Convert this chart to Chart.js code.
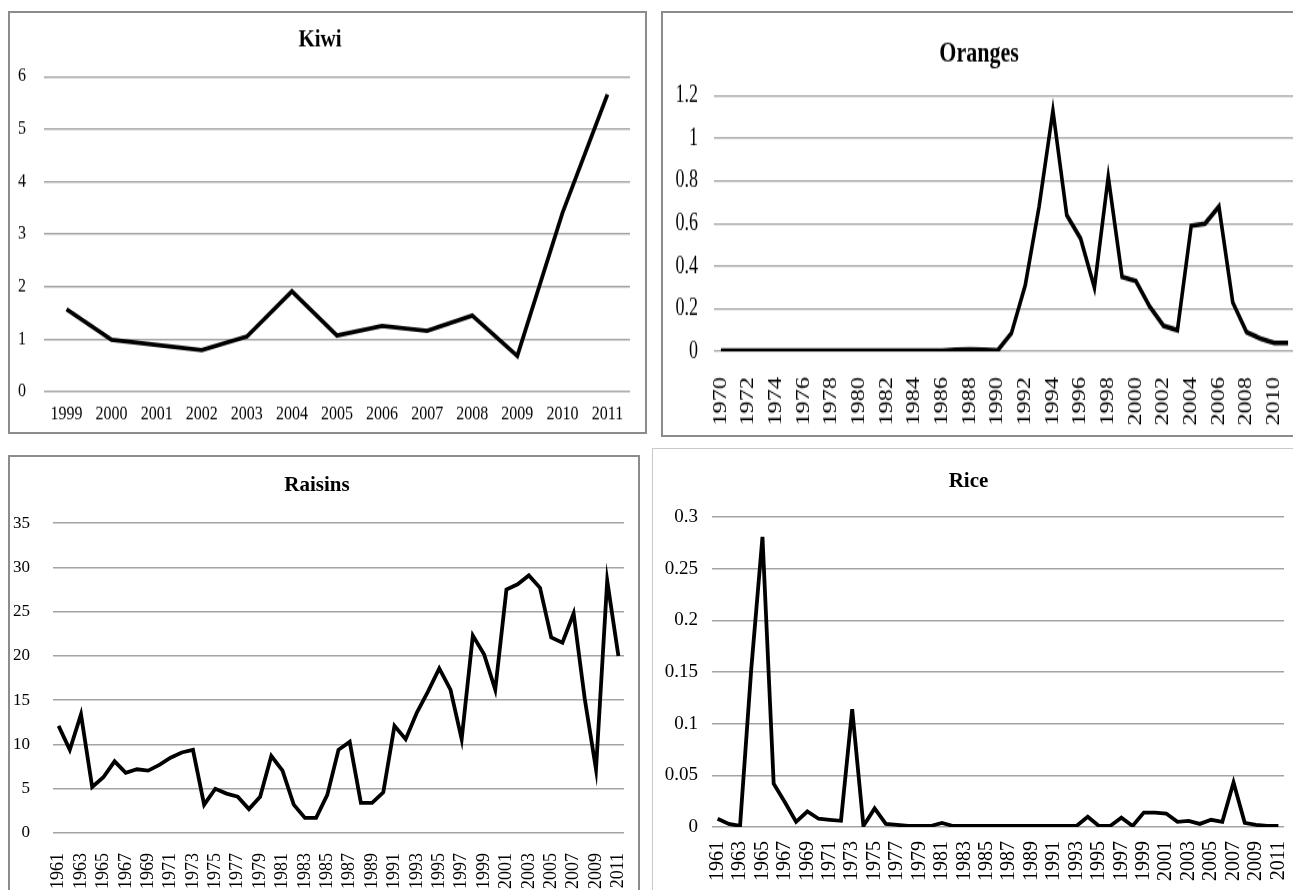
<!DOCTYPE html>
<html>
<head>
<meta charset="utf-8">
<script src="https://cdn.jsdelivr.net/npm/chart.js@4.4.1/dist/chart.umd.min.js"></script>
<style>
    body { margin: 0; width: 1293px; height: 890px; overflow: hidden; background: #fff; position: relative; }
    .box { position: absolute; box-sizing: border-box; }
    canvas { position: absolute; transform-origin: 0 0; }
</style>
</head>
<body>
<div class="box" style="left:8px; top:11px; width:639px; height:423px; border:2px solid #8c8c8c;"></div>
<div class="box" style="left:661px; top:11px; width:660px; height:426px; border:2px solid #8c8c8c;"></div>
<div class="box" style="left:8px; top:455px; width:632px; height:460px; border:2px solid #8c8c8c;"></div>
<div class="box" style="left:652px; top:448px; width:660px; height:460px; border:1px solid #c8c8c8;"></div>

<canvas id="kiwiChart" width="635" height="364" style="left:10px; top:13px; transform:scaleY(1.151);"></canvas>
<canvas id="orangesChart" width="640" height="313" style="left:663px; top:13px; transform:scaleY(1.348);"></canvas>
<canvas id="raisinsChart" width="628" height="433" style="left:10px; top:457px;"></canvas>
<canvas id="riceChart" width="640" height="441" style="left:653px; top:449px;"></canvas>

<script>
// categories
let kiwiYears = ["1999", "2000", "2001", "2002", "2003", "2004", "2005", "2006", "2007", "2008", "2009", "2010", "2011"];

let orangesYears = ["1970", "1971", "1972", "1973", "1974", "1975", "1976", "1977", "1978", "1979",
    "1980", "1981", "1982", "1983", "1984", "1985", "1986", "1987", "1988", "1989",
    "1990", "1991", "1992", "1993", "1994", "1995", "1996", "1997", "1998", "1999",
    "2000", "2001", "2002", "2003", "2004", "2005", "2006", "2007", "2008", "2009",
    "2010", "2011"];

let longYears = ["1961", "1962", "1963", "1964", "1965", "1966", "1967", "1968", "1969",
    "1970", "1971", "1972", "1973", "1974", "1975", "1976", "1977", "1978", "1979",
    "1980", "1981", "1982", "1983", "1984", "1985", "1986", "1987", "1988", "1989",
    "1990", "1991", "1992", "1993", "1994", "1995", "1996", "1997", "1998", "1999",
    "2000", "2001", "2002", "2003", "2004", "2005", "2006", "2007", "2008", "2009",
    "2010", "2011"];

// series values
let kiwiValues = [1.57, 0.99, 0.89, 0.79, 1.05, 1.91, 1.07, 1.25, 1.16, 1.45, 0.68, 3.40, 5.66];

let orangesValues = [0.003, 0.003, 0.003, 0.003, 0.003, 0.003, 0.003, 0.003, 0.003, 0.003,
    0.003, 0.003, 0.003, 0.003, 0.003, 0.003, 0.003, 0.008, 0.009, 0.007,
    0.004, 0.085, 0.31, 0.68, 1.13, 0.64, 0.53, 0.30, 0.82, 0.35,
    0.33, 0.21, 0.12, 0.10, 0.59, 0.60, 0.68, 0.23, 0.09, 0.06,
    0.04, 0.04];

let raisinsValues = [12.1, 9.4, 13.4, 5.2, 6.3, 8.1, 6.8, 7.2, 7.05,
    7.7, 8.5, 9.1, 9.4, 3.2, 5.0, 4.45, 4.1, 2.7, 4.1,
    8.7, 7.05, 3.2, 1.7, 1.7, 4.3, 9.4, 10.3, 3.4, 3.4,
    4.6, 12.1, 10.6, 13.6, 16.0, 18.6, 16.2, 10.6, 22.3, 20.2,
    16.2, 27.5, 28.1, 29.1, 27.7, 22.1, 21.5, 24.8, 15.1, 7.2,
    28.5, 20.0];

let riceValues = [0.008, 0.003, 0.001, 0.153, 0.281, 0.042, 0.024, 0.005, 0.015,
    0.008, 0.007, 0.006, 0.114, 0.001, 0.018, 0.003, 0.002, 0.001, 0.001,
    0.001, 0.004, 0.001, 0.001, 0.001, 0.001, 0.001, 0.001, 0.001, 0.001,
    0.001, 0.001, 0.001, 0.001, 0.010, 0.001, 0.001, 0.009, 0.001, 0.014,
    0.014, 0.013, 0.005, 0.006, 0.003, 0.007, 0.005, 0.043, 0.004, 0.002,
    0.001, 0.001];

// y axis ranges / tick steps
let kiwiTicks = [0, 6, 1];
let orangesTicks = [0, 1.2, 0.2];
let raisinsTicks = [0, 35, 5];
let riceTicks = [0, 0.3, 0.05];

const FONT = "'Liberation Serif', 'Times New Roman', serif";

function makeChart(id, title, labels, values, yTicks, s) {
    let ctx = document.getElementById(id).getContext("2d");
    return new Chart(ctx, {
        type: "line",
        data: {
            labels: labels,
            datasets: [{
                data: values,
                borderColor: "#000",
                borderWidth: s.line,
                pointRadius: 0,
                tension: 0,
                fill: false
            }]
        },
        options: {
            responsive: false,
            animation: false,
            events: [],
            layout: { padding: { left: 0, right: s.right, top: 0, bottom: 0 } },
            plugins: {
                legend: { display: false },
                tooltip: { enabled: false },
                title: {
                    display: true,
                    text: title,
                    color: "#000",
                    font: { family: FONT, size: s.titleSize, weight: "bold" },
                    padding: { top: s.titleTop, bottom: s.titleBottom }
                }
            },
            scales: {
                x: {
                    offset: true,
                    grid: { display: false },
                    border: { display: false },
                    afterFit: function (scale) {
                        scale.height = s.xHeight;
                        // labels never overflow the plot here, so no side padding
                        scale.paddingLeft = 0;
                        scale.paddingRight = 0;
                    },
                    ticks: {
                        color: "#000",
                        font: { family: FONT, size: s.xSize },
                        padding: s.xPad,
                        autoSkip: false,
                        maxRotation: s.rotate,
                        minRotation: s.rotate,
                        callback: function (v, i) {
                            if (s.every > 1 && i % s.every !== 0) return "";
                            return labels[i];
                        }
                    }
                },
                y: {
                    min: yTicks[0],
                    max: yTicks[1],
                    border: { display: false },
                    afterFit: function (scale) { scale.width = s.yWidth; },
                    grid: { color: "#a3a3a3", lineWidth: s.grid, drawTicks: false },
                    ticks: {
                        stepSize: yTicks[2],
                        color: "#000",
                        font: { family: FONT, size: s.ySize },
                        padding: s.yPad,
                        callback: function (v) { return String(+v.toFixed(3)); }
                    }
                }
            }
        }
    });
}

makeChart("kiwiChart", "Kiwi", kiwiYears, kiwiValues, kiwiTicks, {
    line: 3.8, grid: 1.4, right: 15, titleSize: 21, titleTop: 11, titleBottom: 19,
    xHeight: 35, xSize: 16, xPad: 2, rotate: 0, every: 1,
    yWidth: 34, ySize: 16, yPad: 18
});

makeChart("orangesChart", "Oranges", orangesYears, orangesValues, orangesTicks, {
    line: 3.6, grid: 1.2, right: 8, titleSize: 22, titleTop: 17, titleBottom: 18,
    xHeight: 62, xSize: 18, xPad: 11, rotate: 90, every: 2,
    yWidth: 51, ySize: 18, yPad: 16
});

makeChart("raisinsChart", "Raisins", longYears, raisinsValues, raisinsTicks, {
    line: 3.8, grid: 1.5, right: 14, titleSize: 21, titleTop: 16, titleBottom: 25,
    xHeight: 57, xSize: 18, xPad: 12, rotate: 90, every: 2,
    yWidth: 43, ySize: 17, yPad: 23
});

makeChart("riceChart", "Rice", longYears, riceValues, riceTicks, {
    line: 3.8, grid: 1.5, right: 9, titleSize: 21, titleTop: 20, titleBottom: 23,
    xHeight: 63, xSize: 20, xPad: 6, rotate: 90, every: 2,
    yWidth: 59, ySize: 19, yPad: 14
});
</script>
</body>
</html>
